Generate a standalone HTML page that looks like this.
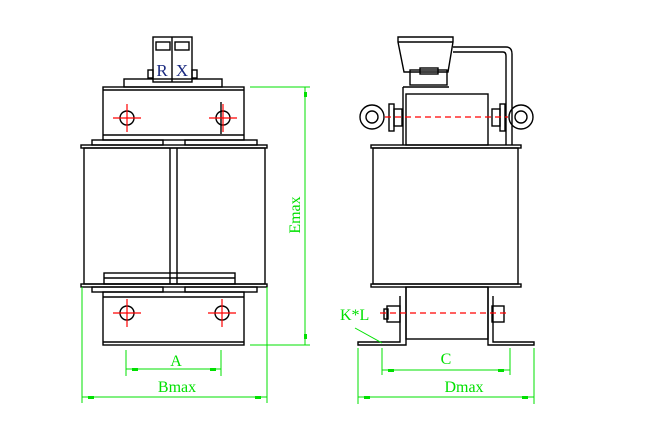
<!DOCTYPE html>
<html><head><style>body{margin:0;background:#fff}svg{display:block}</style></head><body>
<svg width="650" height="440" viewBox="0 0 650 440" xmlns="http://www.w3.org/2000/svg" font-family="Liberation Serif, serif">
<g fill="none" stroke="#000" stroke-width="1.4">
<rect x="153" y="37" width="39" height="45"/>
<line x1="172" y1="37" x2="172" y2="82"/>
<rect x="156" y="42" width="14" height="8"/><rect x="175" y="42" width="14" height="8"/>
<rect x="148" y="70" width="5" height="8"/><rect x="192" y="70" width="5" height="8"/>
<rect x="124" y="79" width="98" height="8"/>
<rect x="103" y="87" width="141" height="53"/>
<line x1="103" y1="90" x2="244" y2="90"/><line x1="103" y1="135" x2="244" y2="135"/>
<rect x="92" y="140" width="71" height="5"/><rect x="185" y="140" width="72" height="5"/>
<rect x="81" y="145" width="186" height="3"/>
<rect x="84" y="148" width="181" height="136"/>
<line x1="170" y1="148" x2="170" y2="284"/><line x1="177" y1="148" x2="177" y2="284"/>
<rect x="104" y="273" width="131" height="11"/>
<line x1="104" y1="278" x2="235" y2="278"/>
<rect x="81" y="284" width="186" height="3"/>
<rect x="92" y="287" width="71" height="5"/><rect x="185" y="287" width="72" height="5"/>
<rect x="103" y="292" width="141" height="53"/>
<line x1="103" y1="297" x2="244" y2="297"/><line x1="103" y1="342" x2="244" y2="342"/>
<circle cx="127" cy="118" r="7"/><circle cx="223" cy="118" r="7"/>
<line x1="221" y1="102" x2="221" y2="134"/>
<circle cx="127" cy="313" r="7"/><circle cx="222" cy="313" r="7"/>
<path d="M398 37 L453 37 L453 42 L448 72 L404 72 L398 42 Z"/>
<line x1="398" y1="42" x2="453" y2="42"/>
<path d="M453 47 L506 47 Q512 47 512 54 L512 145"/>
<path d="M453 52 L503 52 Q506 52 506 56 L506 145"/>
<rect x="410" y="70" width="37" height="15"/>
<rect x="420" y="68" width="18" height="6"/>
<line x1="403" y1="87" x2="449" y2="87"/><line x1="403" y1="87" x2="403" y2="145"/>
<rect x="406" y="94" width="82" height="51"/>
<circle cx="372" cy="117" r="12"/><circle cx="372" cy="117" r="6"/>
<circle cx="521" cy="117" r="12"/><circle cx="521" cy="117" r="6"/>
<rect x="389" y="104" width="5" height="27"/><rect x="394" y="109" width="8" height="17"/>
<rect x="500" y="104" width="5" height="27"/><rect x="492" y="109" width="8" height="17"/>
<rect x="371" y="145" width="150" height="3"/>
<rect x="373" y="148" width="145" height="136"/>
<rect x="371" y="284" width="150" height="3"/>
<rect x="406" y="287" width="82" height="52"/>
<path d="M406 287 L406 345 L358 345 L358 342 L400 342 L400 296"/>
<path d="M488 287 L488 345 L534 345 L534 342 L493 342 L493 296"/>
<rect x="387" y="306" width="13" height="16"/><rect x="384" y="309" width="4" height="10"/>
<rect x="492" y="306" width="12" height="16"/>
</g>
<g stroke="#f00" stroke-width="1.2" fill="none">
<path d="M113 118h28M127 104v28M209 118h28M223 104v28M113 313h28M127 299v28M208 313h28M222 299v28"/>
<line x1="385" y1="117" x2="508" y2="117" stroke-dasharray="6,4"/>
<line x1="380" y1="313" x2="507" y2="313" stroke-dasharray="6,4"/>
</g>
<g stroke="#00e000" stroke-width="1" fill="none">
<path d="M250 87h60M250 345h60M305 87v258"/>
<path d="M126 350v26M221 350v26M126 369h95"/>
<path d="M82 287v116M267 287v116M82 397h185"/>
<path d="M382 348v27M510 348v27M382 370h128"/>
<path d="M358 348v56M534 348v56M358 397h176"/>
<path d="M355 328L382 343"/>
</g>
<g fill="#00e000">
<rect x="304" y="92" width="3" height="5"/><rect x="304" y="334" width="3" height="5"/>
<rect x="132" y="368" width="6" height="3"/><rect x="210" y="368" width="6" height="3"/>
<rect x="88" y="396" width="6" height="3"/><rect x="255" y="396" width="6" height="3"/>
<rect x="388" y="369" width="6" height="3"/><rect x="498" y="369" width="6" height="3"/>
<rect x="364" y="396" width="6" height="3"/><rect x="522" y="396" width="6" height="3"/>
</g>
<g fill="#00e000" font-size="16">
<text x="176" y="366" text-anchor="middle">A</text>
<text x="177" y="392" text-anchor="middle">Bmax</text>
<text x="446" y="364" text-anchor="middle">C</text>
<text x="464" y="392" text-anchor="middle">Dmax</text>
<text x="340" y="320">K*L</text>
<text transform="translate(300,215) rotate(-90)" text-anchor="middle">Emax</text>
</g>
<g font-size="17" fill="#1a2a80">
<text x="162" y="76" text-anchor="middle">R</text>
<text x="182" y="76" text-anchor="middle">X</text>
</g>
</svg>
</body></html>
